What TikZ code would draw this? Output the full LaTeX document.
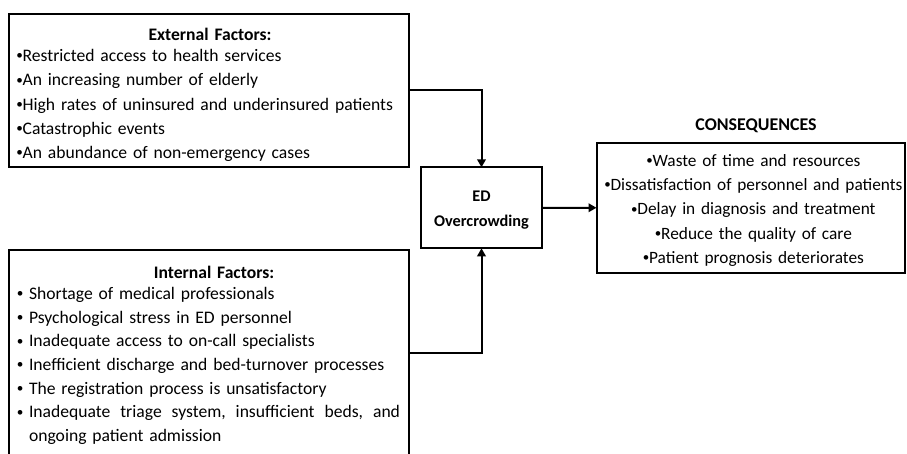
\documentclass[tikz,border=0pt]{standalone}
\usepackage{fontspec}
\setmainfont{Carlito}
\usetikzlibrary{arrows.meta}
\newcommand\bul{\makebox[0.35em][c]{\raisebox{0.1em}{\scalebox{0.75}{•}}}}
\begin{document}
\begin{tikzpicture}[x=1pt,y=-1pt,
  box/.style={draw, line width=2pt, inner sep=0pt, outer sep=0pt},
  lines/.style={inner sep=0pt, outer sep=0pt, anchor=base west},
  conn/.style={line width=2pt, -{Triangle[length=8pt,width=8.5pt]}}]
\useasboundingbox (0,0) rectangle (907,453);
% boxes
\node[box, minimum width=400pt, minimum height=153.5pt] (ext) at (209,90.25) {};
\node[box, minimum width=400pt, minimum height=220pt] (int) at (209,360) {};
\node[box, minimum width=121pt, minimum height=81pt] (ed) at (481.5,207.8) {};
\node[box, minimum width=308.5pt, minimum height=130.5pt] (cons) at (750.75,207.75) {};
% texts
\node[lines, text width=390pt, align=left, font=\fontsize{17.6}{24.15}\selectfont] (exttxt) at (16.5,40)
  {\makebox[390pt]{\hspace{-3pt}\bfseries External Factors:}\\[-2.45pt]
   \bul Restricted access to health services\\
   \bul An increasing number of elderly\\
   \bul High rates of uninsured and underinsured patients\\
   \bul Catastrophic events\\
   \bul An abundance of non-emergency cases};
\node[lines, text width=383pt, align=left, font=\fontsize{17.6}{23.7}\selectfont] (inttxt) at (17,278.7)
  {\makebox[383pt]{\hspace{11pt}\bfseries Internal Factors:}\\[-3pt]
   \bul\ Shortage of medical professionals\\
   \bul\ Psychological stress in ED personnel\\
   \bul\ Inadequate access to on-call specialists\\
   \bul\ Inefficient discharge and bed-turnover processes\\
   \bul\ The registration process is unsatisfactory\\
   \bul\ Inadequate\hfill triage\hfill system,\hfill insufficient\hfill beds,\hfill and\\
   \phantom{\bul\ }ongoing patient admission};
\node[inner sep=0pt, anchor=base, text width=140pt, align=center, font=\fontsize{16.3}{25}\selectfont\bfseries] (edtxt) at (481.5,201)
  {ED\\Overcrowding};
\node[inner sep=0pt, anchor=base, text width=330pt, align=center, font=\fontsize{17.3}{24.2}\selectfont] (constxt) at (753.5,166.5)
  {\bul Waste of time and resources\\
   \bul Dissatisfaction of personnel and patients\\
   \bul Delay in diagnosis and treatment\\
   \bul Reduce the quality of care\\
   \bul Patient prognosis deteriorates};
\node[inner sep=0pt, anchor=base, font=\fontsize{17.9}{20}\selectfont\bfseries] (constitle) at (756,130.5) {CONSEQUENCES};
% connectors
\draw[conn] (ext.east) -| (ed.north);
\draw[conn] ([yshift=7.5pt]int.east) -| (ed.south);
\draw[conn] (ed.east) -- (cons.west);
\end{tikzpicture}
\end{document}
